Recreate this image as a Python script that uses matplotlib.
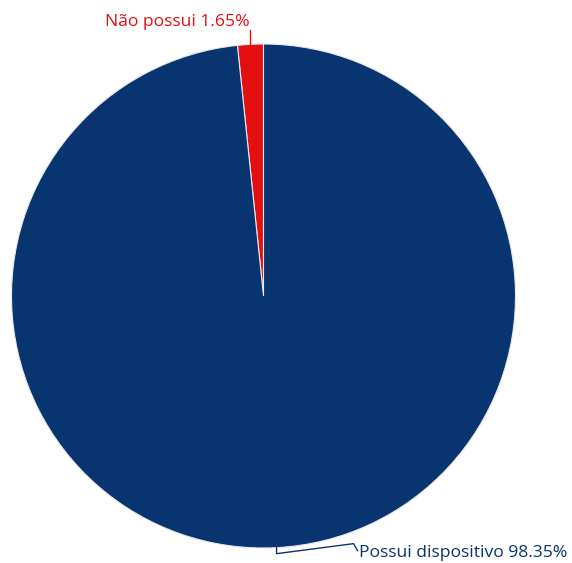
import numpy as np
import matplotlib.pyplot as plt

labels = ['Não possui', 'Possui dispositivo']
shares = [1.65, 98.35]
colors = ['#e3100f', '#08356f']

W, H = 572, 563
cx, cy, R = 263.5, 296.0, 252.0   # pie centre / radius in pixels

fig = plt.figure(figsize=(W / 100, H / 100), dpi=100)
ax = fig.add_axes([0, 0, 1, 1])
ax.pie(shares, colors=colors, startangle=90, counterclock=True, radius=1,
       wedgeprops=dict(edgecolor='#e8e8f0', linewidth=0.8))
ax.set_xlim(-cx / R, (W - cx) / R)
ax.set_ylim(-(H - cy) / R, cy / R)
ax.set_aspect('equal')
ax.axis('off')

px = 1 / R  # one pixel in data units

# slice mid angles
ang0 = 90 + shares[0] * 3.6 / 2
ang1 = 90 + shares[0] * 3.6 + shares[1] * 3.6 / 2

# small slice label, above the pie
x0, y0 = np.cos(np.radians(ang0)), np.sin(np.radians(ang0))
ax.plot([x0, x0], [y0, y0 + 14 * px], color=colors[0], lw=1)
ax.text(x0 - 1 * px, y0 + 22 * px, f'{labels[0]} {shares[0]:.2f}%',
        color=colors[0], ha='right', va='center', fontsize=12.6,
        family='Open Sans')

# big slice label, below the pie
x1, y1 = np.cos(np.radians(ang1)), np.sin(np.radians(ang1))
lx = [x1, x1, x1 + 77 * px, x1 + 81 * px]
ly = [y1, y1 - 6 * px, y1 + 4 * px, y1 - 3 * px]
ax.plot(lx, ly, color=colors[1], lw=1)
ax.text(lx[-1] + 1 * px, ly[-1] - 2 * px, f'{labels[1]} {shares[1]:.2f}%',
        color=colors[1], ha='left', va='center', fontsize=12.6,
        family='Open Sans')

fig.savefig('out.png', dpi=100, facecolor='white')
